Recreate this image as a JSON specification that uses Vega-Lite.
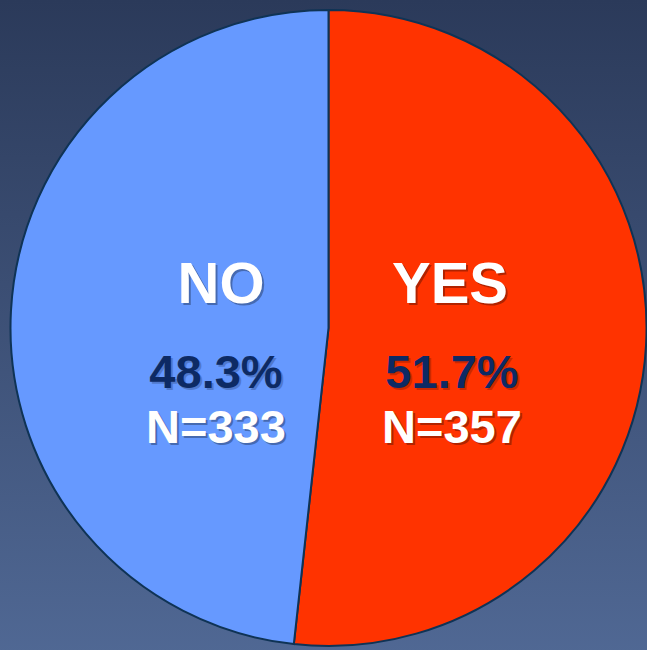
{
  "$schema": "https://vega.github.io/schema/vega-lite/v6.json",
  "width": 657,
  "height": 656,
  "autosize": {"type": "none"},
  "padding": {"left": 0, "top": 0, "right": -10, "bottom": -6},
  "background": "#3b4e74",
  "config": {"view": {"stroke": null}},
  "data": {"values": [
    {"answer": "YES", "n": 357, "pct": 0.517, "nlabel": "N=357"},
    {"answer": "NO", "n": 333, "pct": 0.483, "nlabel": "N=333"}
  ]},
  "layer": [
    {
      "data": {"values": [{"bg": 1}]},
      "mark": {"type": "rect", "color": {"gradient": "linear", "x1": 0, "y1": 0, "x2": 0, "y2": 1,
        "stops": [{"offset": 0, "color": "#2b3a5a"}, {"offset": 1, "color": "#506894"}]}},
      "encoding": {}
    },
    {
      "mark": {"type": "arc", "stroke": "#0f3355", "strokeWidth": 2, "outerRadius": 318},
      "encoding": {
        "theta": {"field": "n", "type": "quantitative", "stack": true},
        "order": {"field": "answer", "sort": "descending"},
        "color": {"field": "answer", "type": "nominal",
          "scale": {"domain": ["NO", "YES"], "range": ["#6699ff", "#ff3300"]}, "legend": null}
      }
    },
    {
      "mark": {"type": "text", "radius": 114.5, "thetaOffset": -0.0534, "dx": 9, "dy": -23,
        "font": "Liberation Sans", "fontWeight": "bold", "fontSize": 58, "fill": "#000000", "opacity": 0.3,
        "align": "center", "baseline": "alphabetic"},
      "encoding": {
        "theta": {"field": "n", "type": "quantitative", "stack": true},
        "order": {"field": "answer", "sort": "descending"},
        "text": {"field": "answer"}}
    },
    {
      "mark": {"type": "text", "radius": 114.5, "thetaOffset": -0.0534, "dx": 7, "dy": -25,
        "font": "Liberation Sans", "fontWeight": "bold", "fontSize": 58, "fill": "#ffffff",
        "align": "center", "baseline": "alphabetic"},
      "encoding": {
        "theta": {"field": "n", "type": "quantitative", "stack": true},
        "order": {"field": "answer", "sort": "descending"},
        "text": {"field": "answer"}}
    },
    {
      "mark": {"type": "text", "radius": 118, "thetaOffset": -0.0534, "dx": 7.5, "dy": 62,
        "font": "Liberation Sans", "fontWeight": "bold", "fontSize": 47, "fill": "#000000", "opacity": 0.2,
        "align": "center", "baseline": "alphabetic"},
      "encoding": {
        "theta": {"field": "n", "type": "quantitative", "stack": true},
        "order": {"field": "answer", "sort": "descending"},
        "text": {"field": "pct", "type": "quantitative", "format": ".1%"}}
    },
    {
      "mark": {"type": "text", "radius": 118, "thetaOffset": -0.0534, "dx": 5.5, "dy": 60,
        "font": "Liberation Sans", "fontWeight": "bold", "fontSize": 47, "fill": "#0d2a64",
        "align": "center", "baseline": "alphabetic"},
      "encoding": {
        "theta": {"field": "n", "type": "quantitative", "stack": true},
        "order": {"field": "answer", "sort": "descending"},
        "text": {"field": "pct", "type": "quantitative", "format": ".1%"}}
    },
    {
      "mark": {"type": "text", "radius": 118, "thetaOffset": -0.0534, "dx": 7.5, "dy": 117,
        "font": "Liberation Sans", "fontWeight": "bold", "fontSize": 47, "fill": "#000000", "opacity": 0.3,
        "align": "center", "baseline": "alphabetic"},
      "encoding": {
        "theta": {"field": "n", "type": "quantitative", "stack": true},
        "order": {"field": "answer", "sort": "descending"},
        "text": {"field": "nlabel"}}
    },
    {
      "mark": {"type": "text", "radius": 118, "thetaOffset": -0.0534, "dx": 5.5, "dy": 115,
        "font": "Liberation Sans", "fontWeight": "bold", "fontSize": 47, "fill": "#ffffff",
        "align": "center", "baseline": "alphabetic"},
      "encoding": {
        "theta": {"field": "n", "type": "quantitative", "stack": true},
        "order": {"field": "answer", "sort": "descending"},
        "text": {"field": "nlabel"}}
    }
  ]
}
